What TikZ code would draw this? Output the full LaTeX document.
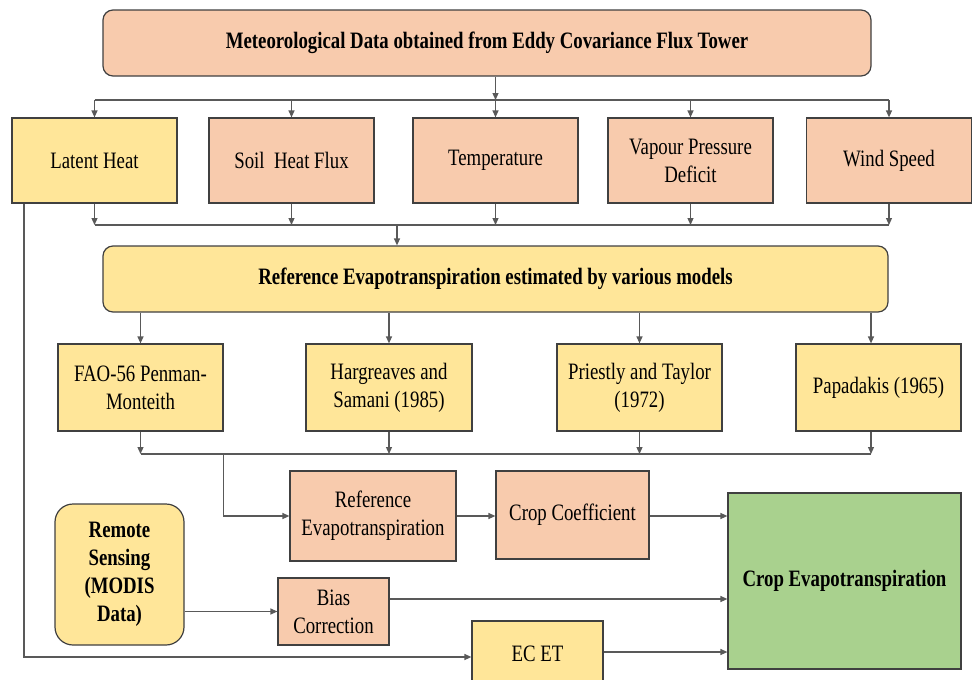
\documentclass[tikz,border=0pt]{standalone}
\usepackage{fontspec}
\setmainfont{Liberation Serif}[FakeStretch=0.8]
\usetikzlibrary{arrows.meta}
\definecolor{salmon}{HTML}{F8CBAD}
\definecolor{gold}{HTML}{FFE699}
\definecolor{leaf}{HTML}{A9D18E}
\definecolor{edgecol}{HTML}{404040}
\definecolor{linecol}{HTML}{595959}
\begin{document}
\begin{tikzpicture}[x=1pt,y=-1pt,
  box/.style={draw=edgecol, line width=1.2pt, inner sep=0pt, align=center,
    font=\fontsize{23.5}{28}\selectfont, text=black},
  sbox/.style={box, fill=salmon},
  ybox/.style={box, fill=gold},
  link/.style={draw=linecol, line width=1.2pt},
  arr/.style={link, -{Triangle[length=7pt,width=6pt]}}]
\useasboundingbox (0,0) rectangle (972,680);

% top
\node[sbox, rounded corners=10pt, minimum width=768pt, minimum height=66pt, font=\fontsize{23.5}{28}\selectfont\bfseries] (top) at (487,43) {Meteorological Data obtained from Eddy Covariance Flux Tower};

% row 1
\node[ybox, minimum width=165pt, minimum height=85pt] (lh) at (94.5,160.5) {Latent Heat};
\node[sbox, minimum width=165pt, minimum height=85pt] (sh) at (291.5,160.5) {Soil\ \ Heat Flux};
\node[sbox, minimum width=165pt, minimum height=85pt] (temp) at (495.5,160.5) {Temperature};
\node[sbox, minimum width=165pt, minimum height=85pt] (vpd) at (690.5,160.5) {Vapour Pressure\\Deficit};
\node[sbox, minimum width=165pt, minimum height=85pt] (ws) at (889,160.5) {Wind Speed};

\coordinate (busA) at (0,100);
\coordinate (busB) at (0,225);
\coordinate (dropB) at (397,225);

\draw[arr] (top.south -| temp.north) -- (busA -| temp.north);
\draw[link] (busA -| lh.north) -- (busA -| ws.north);
\foreach \n in {lh,sh,temp,vpd,ws}{
  \draw[arr] (busA -| \n.north) -- (\n.north);
  \draw[arr] (\n.south) -- (busB -| \n.south);
}
\draw[link] (busB -| lh.south) -- (busB -| ws.south);

% reference box
\node[ybox, rounded corners=10pt, minimum width=785pt, minimum height=66pt, font=\fontsize{23.5}{28}\selectfont\bfseries] (ref) at (495.5,279) {Reference Evapotranspiration estimated by various models};
\draw[arr] (dropB) -- (dropB |- ref.north);

% models
\node[ybox, minimum width=165pt, minimum height=87pt] (fao) at (140.5,387.5) {FAO-56 Penman-\\Monteith};
\node[ybox, minimum width=166pt, minimum height=87pt] (harg) at (389,387.5) {Hargreaves and\\Samani (1985)};
\node[ybox, minimum width=165pt, minimum height=87pt] (pt) at (639.5,387.5) {Priestly and Taylor\\(1972)};
\node[ybox, minimum width=165pt, minimum height=87pt] (pap) at (878.5,387.5) {Papadakis (1965)};

\coordinate (papx) at (871,0);
\coordinate (busC) at (0,454);
\draw[arr] (ref.south -| fao.north) -- (fao.north);
\draw[arr] (ref.south -| harg.north) -- (harg.north);
\draw[arr] (ref.south -| pt.north) -- (pt.north);
\draw[arr] (ref.south -| papx) -- (pap.north -| papx);
\draw[arr] (fao.south) -- (busC -| fao.south);
\draw[arr] (harg.south) -- (busC -| harg.south);
\draw[arr] (pt.south) -- (busC -| pt.south);
\draw[arr] (pap.south -| papx) -- (busC -| papx);
\draw[link] (busC -| fao.south) -- (busC -| papx);

% lower part
\node[sbox, minimum width=166pt, minimum height=90pt] (refet) at (373,516) {Reference\\Evapotranspiration};
\node[sbox, minimum width=153pt, minimum height=88pt] (cc) at (572.5,515) {Crop Coefficient};
\node[box, fill=leaf, minimum width=233pt, minimum height=176pt, font=\fontsize{23.5}{28}\selectfont\bfseries] (cet) at (844.5,581) {Crop Evapotranspiration};
\node[ybox, rounded corners=18pt, minimum width=129pt, minimum height=141pt, font=\fontsize{23.5}{28}\selectfont\bfseries] (rs) at (119.5,574.5) {Remote\\Sensing\\(MODIS\\Data)};
\node[sbox, minimum width=111pt, minimum height=67pt] (bias) at (333.5,611.5) {Bias\\Correction};
\node[ybox, minimum width=131pt, minimum height=66pt] (ecet) at (537.5,654) {EC ET};

\draw[arr] (busC -| fao.east) |- (refet.west);
\draw[arr] (refet.east) -- (refet.east -| cc.west);
\draw[arr] (cc.east |- refet.east) -- (cet.west |- refet.east);
\coordinate (biasy) at (0,599);
\coordinate (ecy) at (0,652);
\coordinate (lhy) at (0,657);
\coordinate (lhx) at (24,0);
\draw[arr] (rs.east |- bias.west) -- (bias.west);
\draw[arr] (bias.east |- biasy) -- (cet.west |- biasy);
\draw[arr] (ecet.east |- ecy) -- (cet.west |- ecy);
\draw[arr] (lh.south -| lhx) |- (ecet.west |- lhy);
\end{tikzpicture}
\end{document}
